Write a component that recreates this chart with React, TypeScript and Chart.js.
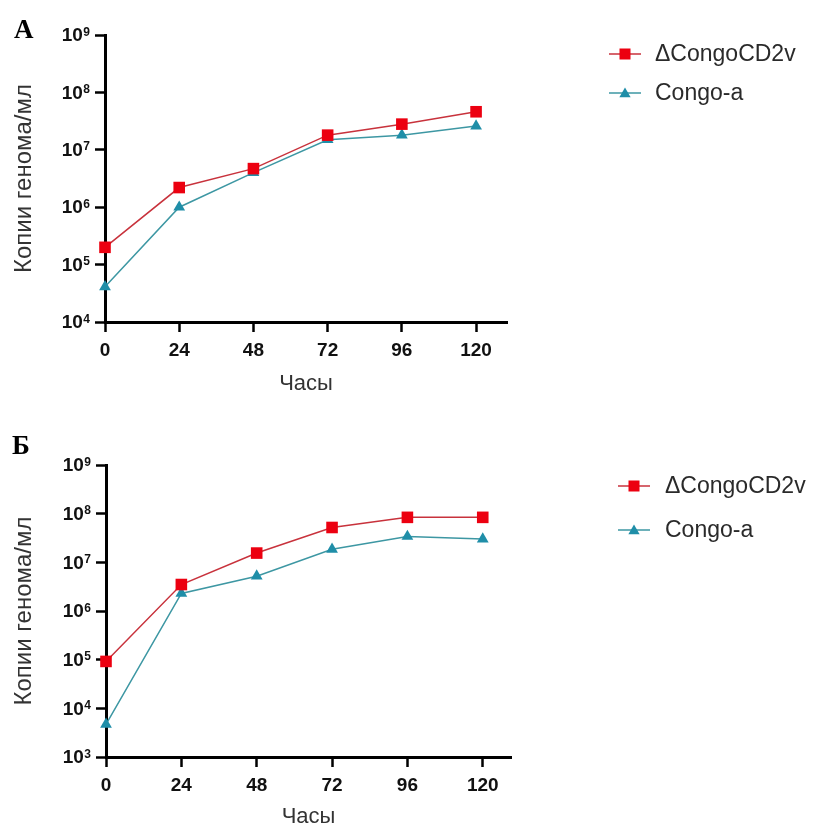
import React, { useEffect, useRef } from 'react';
import { Chart, registerables } from 'chart.js';

Chart.register(...registerables);

// ---------- data ----------
const HOURS = [0, 24, 48, 72, 96, 120];
const X_TICKS = [0, 24, 48, 72, 96, 120];
const SERIES_NAMES = ['ΔCongoCD2v', 'Congo-a'];
const PANEL_LABELS = ['А', 'Б'];
const X_TITLE = 'Часы';
const Y_TITLE = 'Копии генома/мл';

const A_CD2V = [2.0e5, 2.2e6, 4.7e6, 1.8e7, 2.8e7, 4.6e7];
const A_CONGO = [4.1e4, 1.0e6, 4.0e6, 1.5e7, 1.8e7, 2.6e7];
const A_Y_TICKS = [1e4, 1e5, 1e6, 1e7, 1e8, 1e9];

const B_CD2V = [9.2e4, 3.5e6, 1.55e7, 5.2e7, 8.4e7, 8.4e7];
const B_CONGO = [4.7e3, 2.3e6, 5.2e6, 1.85e7, 3.4e7, 3.0e7];
const B_Y_TICKS = [1e3, 1e4, 1e5, 1e6, 1e7, 1e8, 1e9];

// ---------- styles ----------
const RED = '#ec0010';
const RED_LINE = '#c8323c';
const TEAL = '#1f8ea8';
const TEAL_LINE = '#3d97a3';
const SANS = '"Liberation Sans", Arial, sans-serif';

type Panel = {
  top: number;
  height: number;
  cd2v: number[];
  congo: number[];
  yTicks: number[];
  xMax: number;
  area: { left: number; right: number; top: number; bottom: number };
  xTitlePad: number;
  label: string;
  labelPos: { x: number; y: number };
  legend: { y1: number; y2: number; lx1: number; lx2: number; mx: number; tx: number };
};

const PANELS: Panel[] = [
  {
    top: 0,
    height: 400,
    cd2v: A_CD2V,
    congo: A_CONGO,
    yTicks: A_Y_TICKS,
    xMax: 130,
    area: { left: 105, right: 507, top: 35, bottom: 322 },
    xTitlePad: 5,
    label: PANEL_LABELS[0],
    labelPos: { x: 14, y: 38 },
    legend: { y1: 54, y2: 93, lx1: 609, lx2: 641, mx: 625, tx: 655 },
  },
  {
    top: 400,
    height: 428,
    cd2v: B_CD2V,
    congo: B_CONGO,
    yTicks: B_Y_TICKS,
    xMax: 129,
    area: { left: 106, right: 511, top: 65, bottom: 357 },
    xTitlePad: 0,
    label: PANEL_LABELS[1],
    labelPos: { x: 12, y: 54 },
    legend: { y1: 86, y2: 130, lx1: 618, lx2: 650, mx: 634, tx: 665 },
  },
];

function drawSquare(ctx: CanvasRenderingContext2D, x: number, y: number, s: number, color: string) {
  ctx.fillStyle = color;
  ctx.fillRect(x - s / 2, y - s / 2, s, s);
}
function drawTriangle(ctx: CanvasRenderingContext2D, x: number, y: number, r: number, color: string) {
  ctx.fillStyle = color;
  ctx.beginPath();
  for (let i = 0; i < 3; i++) {
    const a = (i * 2 * Math.PI) / 3;
    const px = x + Math.sin(a) * r;
    const py = y - Math.cos(a) * r;
    if (i === 0) ctx.moveTo(px, py);
    else ctx.lineTo(px, py);
  }
  ctx.closePath();
  ctx.fill();
}

function makeChart(canvas: HTMLCanvasElement, p: Panel) {
  const W = 813;
  const H = p.height;
  const decorPlugin = {
    id: 'decor' + p.label,
    afterDraw(chart: any) {
      const ctx: CanvasRenderingContext2D = chart.ctx;
      ctx.save();
      // y tick labels: 10 with raised exponent
      const ys = chart.scales.y;
      const rightEdge = chart.chartArea.left - 10 - 5;
      ys.ticks.forEach((t: any) => {
        const y = ys.getPixelForValue(t.value);
        const e = String(Math.round(Math.log10(t.value)));
        ctx.fillStyle = '#111';
        ctx.font = 'bold 12px ' + SANS;
        ctx.textAlign = 'right';
        ctx.textBaseline = 'alphabetic';
        ctx.fillText(e, rightEdge, y + 0.5);
        const ew = ctx.measureText(e).width;
        ctx.font = 'bold 19px ' + SANS;
        ctx.textBaseline = 'middle';
        ctx.fillText('10', rightEdge - ew - 0.5, y + 1);
      });
      // panel letter
      ctx.fillStyle = '#000';
      ctx.font = 'bold 27px "Liberation Serif", "Times New Roman", serif';
      ctx.textAlign = 'left';
      ctx.textBaseline = 'alphabetic';
      ctx.fillText(p.label, p.labelPos.x, p.labelPos.y);
      // legend
      const L = p.legend;
      const items = [
        { y: L.y1, line: RED_LINE, mark: 'sq', color: RED, text: SERIES_NAMES[0] },
        { y: L.y2, line: TEAL_LINE, mark: 'tri', color: TEAL, text: SERIES_NAMES[1] },
      ];
      items.forEach((it) => {
        ctx.strokeStyle = it.line;
        ctx.lineWidth = 1.5;
        ctx.beginPath();
        ctx.moveTo(L.lx1, it.y);
        ctx.lineTo(L.lx2, it.y);
        ctx.stroke();
        if (it.mark === 'sq') drawSquare(ctx, L.mx, it.y, 11, it.color);
        else drawTriangle(ctx, L.mx, it.y + 1, 6.5, it.color);
        ctx.fillStyle = '#2a2a2a';
        ctx.font = '23px ' + SANS;
        ctx.textAlign = 'left';
        ctx.textBaseline = 'middle';
        ctx.fillText(it.text, L.tx, it.y + 1);
      });
      ctx.restore();
    },
  };

  return new Chart(canvas, {
    type: 'line',
    data: {
      datasets: [
        {
          label: SERIES_NAMES[0],
          data: HOURS.map((h, i) => ({ x: h, y: p.cd2v[i] })),
          borderColor: RED_LINE,
          borderWidth: 1.5,
          backgroundColor: RED,
          pointStyle: 'rect',
          pointRadius: 8.2,
          pointBorderWidth: 0,
          pointBackgroundColor: RED,
          pointBorderColor: RED,
          clip: false as any,
        },
        {
          label: SERIES_NAMES[1],
          data: HOURS.map((h, i) => ({ x: h, y: p.congo[i] })),
          borderColor: TEAL_LINE,
          borderWidth: 1.5,
          backgroundColor: TEAL,
          pointStyle: 'triangle',
          pointRadius: 6.8,
          pointBorderWidth: 0,
          pointBackgroundColor: TEAL,
          pointBorderColor: TEAL,
          clip: false as any,
        },
      ],
    },
    options: {
      responsive: false,
      animation: false,
      devicePixelRatio: 1,
      layout: {
        padding: { left: 0, top: p.area.top, right: W - p.area.right, bottom: 0 },
      },
      plugins: {
        legend: { display: false },
        tooltip: { enabled: false },
      },
      scales: {
        x: {
          type: 'linear',
          min: 0,
          max: p.xMax,
          afterFit: (s: any) => {
            s.height = H - p.area.bottom;
          },
          afterBuildTicks: (s: any) => {
            s.ticks = X_TICKS.map((v) => ({ value: v }));
          },
          ticks: {
            color: '#111',
            font: { family: SANS, size: 19, weight: 'bold' },
            padding: 7,
            maxRotation: 0,
            autoSkip: false,
            callback: (v: any) => String(v),
          },
          grid: {
            drawOnChartArea: false,
            drawTicks: true,
            tickLength: 10,
            tickWidth: 2.5,
            tickColor: '#000',
          },
          border: { display: true, color: '#000', width: 3 },
          title: {
            display: true,
            text: X_TITLE,
            color: '#333',
            font: { family: SANS, size: 22, lineHeight: 1 },
            padding: { top: 0, bottom: p.xTitlePad },
          },
        },
        y: {
          type: 'logarithmic',
          min: p.yTicks[0],
          max: p.yTicks[p.yTicks.length - 1],
          afterFit: (s: any) => {
            s.width = p.area.left;
          },
          afterBuildTicks: (s: any) => {
            s.ticks = p.yTicks.map((v) => ({ value: v }));
          },
          ticks: {
            display: true,
            color: 'rgba(0,0,0,0)',
            font: { family: SANS, size: 18, weight: 'bold' },
            padding: 5,
            autoSkip: false,
            callback: () => '',
          },
          grid: {
            drawOnChartArea: false,
            drawTicks: true,
            tickLength: 10,
            tickWidth: 2.5,
            tickColor: '#000',
          },
          border: { display: true, color: '#000', width: 3 },
          title: {
            display: true,
            text: Y_TITLE,
            color: '#333',
            font: { family: SANS, size: 24, lineHeight: 1.2 },
            padding: { top: 10, bottom: 0 },
          },
        },
      },
    },
    plugins: [decorPlugin],
  } as any);
}

function PanelChart({ p }: { p: Panel }) {
  const ref = useRef<HTMLCanvasElement | null>(null);
  useEffect(() => {
    if (!ref.current) return;
    const c = makeChart(ref.current, p);
    return () => c.destroy();
  }, [p]);
  return (
    <canvas
      ref={ref}
      width={813}
      height={p.height}
      style={{ position: 'absolute', left: 0, top: p.top, width: 813, height: p.height, display: 'block' }}
    />
  );
}

export default function App() {
  return (
    <div style={{ position: 'absolute', left: 0, top: 0, width: 813, height: 828, background: '#fff', overflow: 'hidden' }}>
      {PANELS.map((p, i) => (
        <PanelChart key={i} p={p} />
      ))}
    </div>
  );
}
